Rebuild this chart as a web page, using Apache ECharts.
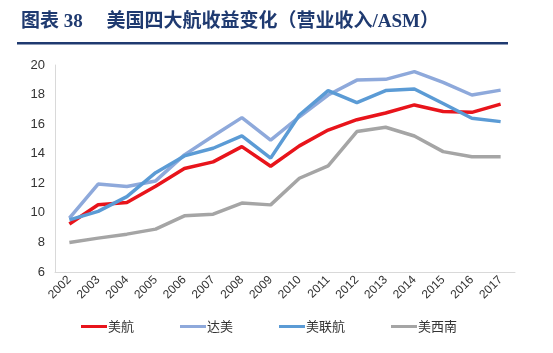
<!DOCTYPE html>
<html><head><meta charset="utf-8">
<script src="https://cdn.jsdelivr.net/npm/echarts@6/dist/echarts.min.js"></script>
<style>html,body{margin:0;padding:0;background:#fff}#c{width:553px;height:353px}</style>
</head><body><div id="c"></div>
<script>
const years = ['2002','2003','2004','2005','2006','2007','2008','2009','2010','2011','2012','2013','2014','2015','2016','2017'];
const american = [9.25,10.55,10.7,11.8,13.0,13.45,14.48,13.15,14.53,15.6,16.3,16.75,17.3,16.85,16.8,17.35];
const delta = [9.65,11.95,11.78,12.16,13.92,15.2,16.44,14.92,16.5,17.97,18.98,19.03,19.55,18.83,17.97,18.3];
const united = [9.53,10.1,11.1,12.72,13.85,14.37,15.2,13.7,16.62,18.27,17.45,18.27,18.38,17.4,16.4,16.17];
const southwest = [8.0,8.29,8.56,8.9,9.8,9.91,10.66,10.54,12.34,13.18,15.5,15.79,15.2,14.14,13.8,13.8];
const names = ['美航','达美','美联航','美西南'];
const colors = ['#E8141B','#8EA9DB','#5B9BD5','#A5A5A5'];
const titleText = '图表 38\u3000 美国四大航收益变化（营业收入/ASM）';

const chart = echarts.init(document.getElementById('c'));
const seriesData = [american, delta, united, southwest];
chart.setOption({
  animation: false,
  backgroundColor: '#fff',
  title: {
    text: titleText, left: 16, top: 8,
    textStyle: {fontFamily: '"Liberation Serif","Noto Sans CJK SC"', fontWeight: 'bold', fontSize: 19, color: '#1F3A70'}
  },
  graphic: [{type: 'rect', shape: {x: 17, y: 42, width: 491, height: 2.5}, style: {fill: '#1F3A70'}}],
  grid: {left: 55, right: 38, top: 65, bottom: 81},
  legend: {
    bottom: 15, left: 76, itemGap: 46, itemWidth: 26, itemHeight: 3,
    icon: 'rect',
    data: names,
    textStyle: {fontFamily: '"Noto Sans CJK SC"', fontSize: 13, color: '#333', padding: [0,0,0,-4]}
  },
  xAxis: {
    type: 'category', data: years, boundaryGap: true,
    axisLine: {lineStyle: {color: '#D9D9D9', width: 1}},
    axisTick: {show: false},
    axisLabel: {rotate: 45, fontSize: 12, color: '#333', fontFamily: 'Arial, "Liberation Sans"', margin: 6, interval: 0}
  },
  yAxis: {
    type: 'value', min: 6, max: 20, interval: 2,
    axisLine: {show: true, lineStyle: {color: '#D9D9D9', width: 1}},
    axisTick: {show: false},
    splitLine: {show: false},
    axisLabel: {fontSize: 13, color: '#333', fontFamily: 'Arial, "Liberation Sans"', margin: 10}
  },
  series: names.map((n, i) => ({
    name: n, type: 'line', data: seriesData[i], symbol: 'none',
    lineStyle: {width: 3.5, color: colors[i]}, itemStyle: {color: colors[i]},
    z: [2,3,4,1][i]
  }))
});
</script></body></html>
